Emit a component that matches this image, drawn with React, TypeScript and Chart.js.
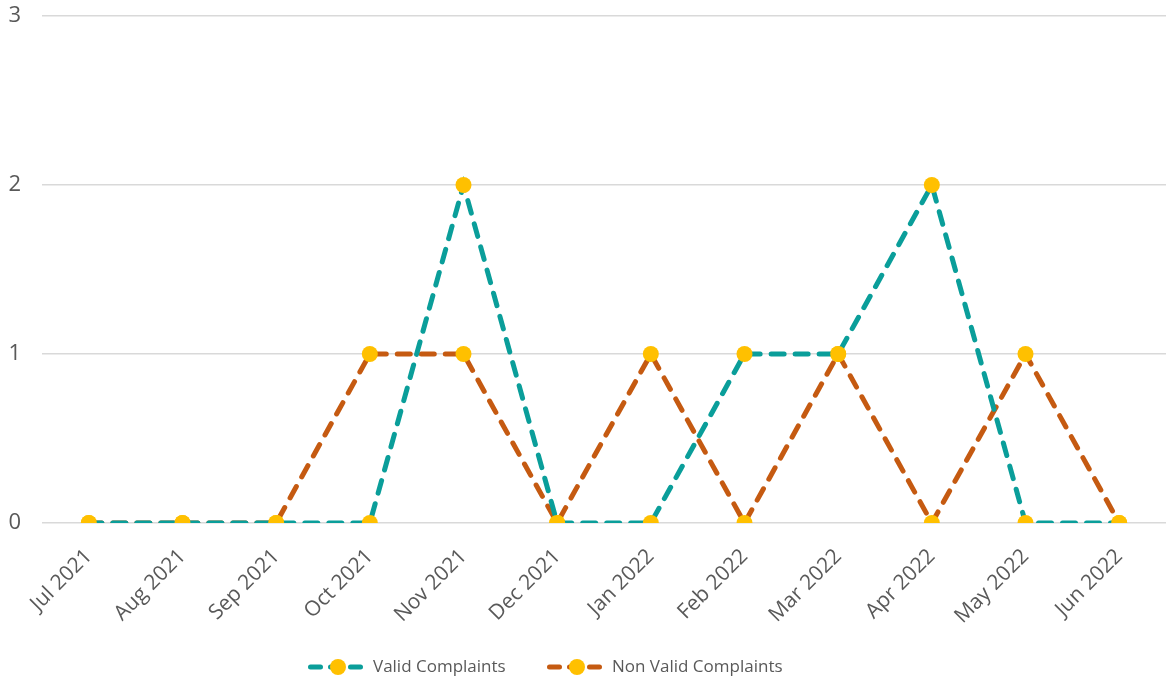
import React, { useEffect, useRef } from "react";
import { Chart, registerables } from "chart.js";

Chart.register(...registerables);

const categories = [
  "Jul 2021", "Aug 2021", "Sep 2021", "Oct 2021", "Nov 2021", "Dec 2021",
  "Jan 2022", "Feb 2022", "Mar 2022", "Apr 2022", "May 2022", "Jun 2022",
];
const validComplaints = [0, 0, 0, 0, 2, 0, 0, 1, 1, 2, 0, 0];
const nonValidComplaints = [0, 0, 0, 1, 1, 0, 1, 0, 1, 0, 1, 0];
const seriesNames = ["Valid Complaints", "Non Valid Complaints"];
const yTicks = [0, 1, 2, 3];

const TEAL = "#0A9E9A";
const ORANGE = "#C55A11";
const GOLD = "#FFC000";
const TEXT = "#595959";
const FONT = "'Open Sans', sans-serif";
const DASH = [13, 11];

const legendPlugin = {
  id: "customLegend",
  afterDraw(chart: any) {
    const ctx = chart.ctx;
    const y = 667;
    const starts = [308, 547];
    chart.data.datasets.forEach((ds: any, i: number) => {
      const x = starts[i];
      ctx.save();
      ctx.strokeStyle = ds.borderColor;
      ctx.lineWidth = 5;
      ctx.lineCap = "round";
      ctx.setLineDash([10, 10]);
      ctx.beginPath();
      ctx.moveTo(x + 2.5, y);
      ctx.lineTo(x + 54, y);
      ctx.stroke();
      ctx.setLineDash([]);
      ctx.fillStyle = GOLD;
      ctx.beginPath();
      ctx.arc(x + 30, y, 8, 0, Math.PI * 2);
      ctx.fill();
      ctx.fillStyle = TEXT;
      ctx.font = `17px ${FONT}`;
      ctx.textBaseline = "middle";
      ctx.textAlign = "left";
      ctx.fillText(ds.label, x + 65, y);
      ctx.restore();
    });
  },
};

export default function App() {
  const ref = useRef<HTMLCanvasElement>(null);
  useEffect(() => {
    document.body.style.margin = "0";
    const mk = (label: string, data: number[], color: string) => ({
      label,
      data,
      borderColor: color,
      borderWidth: 5,
      borderDash: DASH,
      borderCapStyle: "round" as const,
      pointRadius: 8,
      pointBackgroundColor: GOLD,
      pointBorderColor: GOLD,
      pointBorderWidth: 0,
      tension: 0,
      fill: false,
    });
    const chart = new Chart(ref.current!, {
      type: "line",
      data: {
        labels: categories,
        datasets: [
          mk(seriesNames[0], validComplaints, TEAL),
          mk(seriesNames[1], nonValidComplaints, ORANGE),
        ],
      },
      options: {
        animation: false,
        responsive: false,
        layout: { autoPadding: false, padding: { top: 16, right: 0, left: 0, bottom: 0 } },
        plugins: {
          legend: { display: false },
          tooltip: { enabled: false },
        },
        scales: {
          x: {
            offset: true,
            grid: { display: false, drawTicks: false },
            border: { display: false },
            ticks: {
              color: TEXT,
              font: { family: FONT, size: 21 },
              minRotation: 45,
              maxRotation: 45,
              padding: 21,
              autoSkip: false,
            },
            afterFit(scale: any) {
              scale.height = 160;
              scale.paddingLeft = 0;
              scale.paddingRight = 0;
            },
          },
          y: {
            min: 0,
            max: 3,
            afterBuildTicks(scale: any) {
              scale.ticks = yTicks.map((v) => ({ value: v }));
            },
            grid: { color: "#D9D9D9", lineWidth: 1.5, drawTicks: false },
            border: { display: false },
            ticks: {
              color: TEXT,
              font: { family: FONT, size: 22 },
              padding: 21,
            },
            afterFit(scale: any) {
              scale.width = 42;
              scale.paddingTop = 0;
              scale.paddingBottom = 0;
            },
          },
        },
      },
      plugins: [legendPlugin],
    });
    return () => chart.destroy();
  }, []);
  return <canvas ref={ref} width={1166} height={683} style={{ display: "block" }} />;
}
